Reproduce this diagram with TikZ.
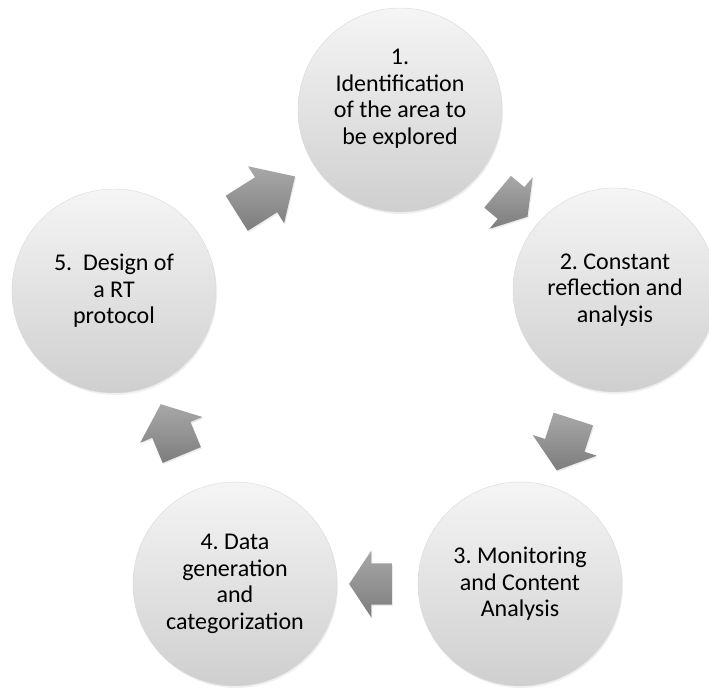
\documentclass[tikz,border=0pt]{standalone}
\usepackage{fontspec}
\setmainfont{Carlito}
\usetikzlibrary{shapes.arrows,shadows}
\frenchspacing
\definecolor{stagetop}{HTML}{F5F5F5}
\definecolor{stagebottom}{HTML}{CFCFCF}
\definecolor{flowtop}{HTML}{A8A8A8}
\definecolor{flowbottom}{HTML}{7D7D7D}
\tikzset{
  stage/.style={circle, minimum size=204pt, inner sep=0pt,
    draw=gray!30, line width=0.4pt,
    top color=stagetop, bottom color=stagebottom,
    drop shadow={opacity=0.12, shadow xshift=1pt, shadow yshift=-2pt},
    align=center, font=\fontsize{24}{26.5}\selectfont},
  flow/.style={single arrow, sloped, allow upside down, midway,
    inner xsep=0pt, inner ysep=20.5pt, single arrow head extend=13pt,
    top color=flowtop, bottom color=flowbottom,
    drop shadow={opacity=0.15, shadow xshift=1pt, shadow yshift=-1.5pt}}
}
\begin{document}
\begin{tikzpicture}[x=1pt, y=1pt]
  \useasboundingbox (0,0) rectangle (709,689);
  % stages of the cycle
  \node[stage] (c1) at (400,579) {1.\\Identification\\of the area to\\be explored\\\mbox{}};
  \node[stage] (c2) at (615,399) {2. Constant\\reflection and\\analysis};
  \node[stage] (c3) at (520,105) {3. Monitoring\\and Content\\Analysis};
  \node[stage] (c4) at (235,105) {4. Data\\generation\\and\\categorization};
  \node[stage] (c5) at (114,398) {5.~~Design of\\a RT\\protocol};
  % arrows between the stages
  \path (c1) -- (c2) node[flow, minimum height=39pt, single arrow tip angle=115] {};
  \path (c2) -- (c3) node[flow, minimum height=54pt, single arrow tip angle=104] {};
  \path (c3) -- (c4) node[flow, minimum height=43pt, single arrow tip angle=113] {};
  \path (c4) -- (c5) node[flow, minimum height=55pt, single arrow tip angle=101] {};
  \path (c5) -- (c1) node[flow, minimum height=69pt, single arrow tip angle=89] {};
\end{tikzpicture}
\end{document}
